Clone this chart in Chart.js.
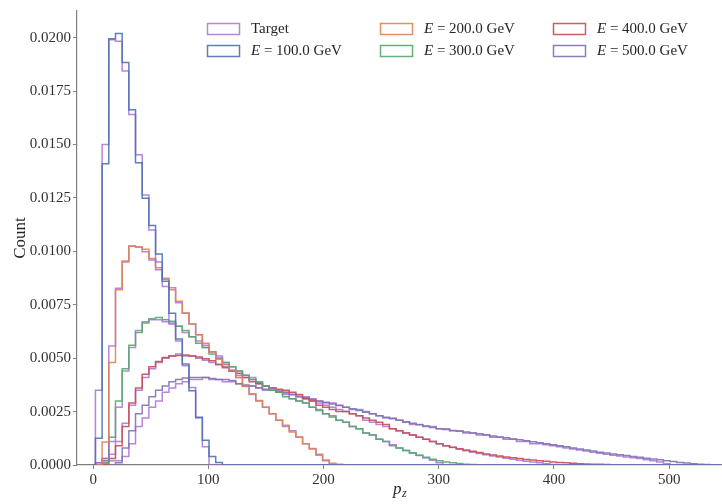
<!DOCTYPE html>
<html>
<head>
<meta charset="utf-8">
<script src="https://cdn.jsdelivr.net/npm/chart.js@4.4.1/dist/chart.umd.min.js"></script>
<style>
  html, body { margin: 0; padding: 0; background: #fff; }
  #wrap { width: 722px; height: 504px; }
</style>
</head>
<body>
<div id="wrap"><canvas id="pzChart" width="722" height="504"></canvas></div>
<script>
// Histogram bins shared by every series (density, bin width in GeV)
const binStart = 2.0;
const binWidth = 5.8;
const binCount = 100;

const energies = ['100.0', '200.0', '300.0', '400.0', '500.0'];
const xTicks = [0, 100, 200, 300, 400, 500];
const yTicks = [0, 0.0025, 0.005, 0.0075, 0.01, 0.0125, 0.015, 0.0175, 0.02];

// Generated samples, one array per beam energy
const e100 = [0.00125, 0.0141, 0.01995, 0.0202, 0.01884, 0.01663, 0.01415, 0.01248, 0.01121, 0.00988,
  0.0086, 0.0071, 0.0059, 0.00473, 0.00348, 0.00224, 0.00116, 0.0004, 0.00012];
const e200 = [0, 0.00108, 0.0048, 0.0082, 0.00955, 0.01025, 0.0102, 0.0101, 0.00967, 0.00923,
  0.00874, 0.0082, 0.00766, 0.00711, 0.0066, 0.0061, 0.0057, 0.0053, 0.00495, 0.0047,
  0.00445, 0.0041, 0.00367, 0.00333, 0.00302, 0.0027, 0.0024, 0.00209, 0.00186, 0.00155,
  0.00131, 0.001, 0.00077, 0.00046, 0.00023, 0.00008, 0.00003];
const e300 = [0, 0.0001, 0.0013, 0.003, 0.0045, 0.0056, 0.0062, 0.00665, 0.00685, 0.0069,
  0.0068, 0.00673, 0.0065, 0.0063, 0.006, 0.0057, 0.0055, 0.0052, 0.005, 0.0048,
  0.0046, 0.0044, 0.0042, 0.0040, 0.00387, 0.0037, 0.0035, 0.0034, 0.0032, 0.0031,
  0.003, 0.0029, 0.0027, 0.00255, 0.0024, 0.00225, 0.0021, 0.002, 0.0018, 0.0017,
  0.0015, 0.0014, 0.0012, 0.0011, 0.0009, 0.0008, 0.00068, 0.00057, 0.00046, 0.00036,
  0.00027, 0.0002, 0.00014, 0.0001, 0.00007, 0.00004, 0.00002, 0.00001];
const e400 = [0, 0.00005, 0.0003, 0.0009, 0.0018, 0.0029, 0.0036, 0.00425, 0.0046, 0.00484,
  0.00503, 0.0051, 0.00513, 0.00515, 0.0051, 0.00505, 0.00497, 0.00488, 0.0047, 0.00455,
  0.0044, 0.0043, 0.0041, 0.0039, 0.0038, 0.0037, 0.0036, 0.00355, 0.0035, 0.0034,
  0.0033, 0.0031, 0.003, 0.0028, 0.0027, 0.0026, 0.0025, 0.0025, 0.0024, 0.0023,
  0.0022, 0.0021, 0.002, 0.0019, 0.0017, 0.0016, 0.0015, 0.0014, 0.0013, 0.0012,
  0.0011, 0.001, 0.0009, 0.00083, 0.00076, 0.0007, 0.00064, 0.00058, 0.00052, 0.00047,
  0.00042, 0.00038, 0.00034, 0.0003, 0.00026, 0.00023, 0.0002, 0.00017, 0.00014, 0.00012,
  0.0001, 0.00008, 0.00006, 0.00005, 0.00004, 0.00003, 0.00002, 0.00001];
const e500 = [0, 0, 0, 0.0001, 0.0008, 0.0016, 0.0024, 0.0028, 0.0032, 0.0035,
  0.0037, 0.0039, 0.004, 0.00407, 0.0041, 0.0041, 0.0041, 0.00405, 0.004, 0.004,
  0.00395, 0.0038, 0.00375, 0.0037, 0.00362, 0.00355, 0.0035, 0.00343, 0.00337, 0.0033,
  0.00322, 0.00315, 0.00307, 0.003, 0.00294, 0.00286, 0.00278, 0.0027, 0.00263, 0.00255,
  0.00247, 0.0024, 0.0023, 0.00224, 0.00216, 0.0021, 0.00202, 0.00195, 0.00188, 0.00182,
  0.00176, 0.0017, 0.00166, 0.00162, 0.00158, 0.00154, 0.0015, 0.00146, 0.00141, 0.00136,
  0.00131, 0.00127, 0.00122, 0.00118, 0.00113, 0.00109, 0.00104, 0.001, 0.00095, 0.0009,
  0.00085, 0.0008, 0.00075, 0.0007, 0.00065, 0.0006, 0.00056, 0.00052, 0.00048, 0.00044,
  0.0004, 0.00036, 0.00032, 0.00028, 0.00024, 0.0002, 0.00016, 0.00012, 0.00009, 0.00006,
  0.00004, 0.00002, 0.00001];

// Target distributions (end at the beam energy)
const t100 = [0.0035, 0.015, 0.0199, 0.01983, 0.01844, 0.0164, 0.01452, 0.01264, 0.011, 0.0095,
  0.00835, 0.00665, 0.0058, 0.00464, 0.00363, 0.0022, 0.00085];
const t200 = [0.0001, 0.0003, 0.00557, 0.00827, 0.0095, 0.01024, 0.0102, 0.00998, 0.0096, 0.00914,
  0.0087, 0.0083, 0.0076, 0.0071, 0.0066, 0.0061, 0.0056, 0.0053, 0.005, 0.0047,
  0.0044, 0.0041, 0.0037, 0.0033, 0.003, 0.0027, 0.0024, 0.0021, 0.0018, 0.0016,
  0.0013, 0.001, 0.00075, 0.0005, 0.0002];
const t300 = [0, 0.0003, 0.0011, 0.0027, 0.0044, 0.0055, 0.0063, 0.0067, 0.0068, 0.0068,
  0.0067, 0.0066, 0.0065, 0.0062, 0.006, 0.0058, 0.0055, 0.0053, 0.0051, 0.0048,
  0.0046, 0.0044, 0.0042, 0.0041, 0.0039, 0.0037, 0.0036, 0.0034, 0.0033, 0.0031,
  0.003, 0.0029, 0.0027, 0.0026, 0.0024, 0.0023, 0.0021, 0.002, 0.0018, 0.0017,
  0.0015, 0.0014, 0.0012, 0.0011, 0.00095, 0.0008, 0.00068, 0.00055, 0.00044, 0.00033,
  0.00022, 0.0001];
const t400 = [0, 0.0002, 0.0005, 0.0011, 0.00195, 0.0028, 0.0035, 0.0041, 0.0045, 0.0048,
  0.005, 0.0051, 0.0052, 0.0051, 0.0051, 0.005, 0.0049, 0.0048, 0.0047, 0.0046,
  0.0044, 0.0042, 0.0041, 0.004, 0.0038, 0.0037, 0.0036, 0.0035, 0.0034, 0.0033,
  0.0032, 0.0031, 0.003, 0.0029, 0.0028, 0.0027, 0.0026, 0.0025, 0.0024, 0.0023,
  0.0021, 0.002, 0.0019, 0.0018, 0.0017, 0.0016, 0.0015, 0.0014, 0.0013, 0.0012,
  0.0011, 0.001, 0.0009, 0.00082, 0.00074, 0.00067, 0.0006, 0.00054, 0.00048, 0.00042,
  0.00037, 0.00032, 0.00027, 0.00022, 0.00018, 0.00014, 0.0001, 0.00006, 0.00002];
const t500 = [0.0001, 0.0002, 0.0002, 0.0002, 0.0004, 0.001, 0.0018, 0.0022, 0.0027, 0.003,
  0.0034, 0.0036, 0.0038, 0.0039, 0.004, 0.004, 0.0041, 0.004, 0.004, 0.0039,
  0.0039, 0.0038, 0.0037, 0.0037, 0.0036, 0.0035, 0.0035, 0.0034, 0.0034, 0.0033,
  0.0032, 0.0032, 0.0031, 0.003, 0.0029, 0.0029, 0.0028, 0.0027, 0.0026, 0.0026,
  0.0025, 0.0024, 0.0023, 0.0022, 0.0022, 0.0021, 0.002, 0.0019, 0.0019, 0.0018,
  0.0018, 0.0017, 0.0017, 0.0016, 0.0016, 0.0015, 0.0015, 0.0014, 0.0014, 0.0013,
  0.0013, 0.0012, 0.0012, 0.0011, 0.0011, 0.001, 0.001, 0.00095, 0.0009, 0.00085,
  0.0008, 0.00075, 0.0007, 0.00065, 0.0006, 0.00055, 0.0005, 0.00046, 0.00042, 0.00038,
  0.00034, 0.0003, 0.00025, 0.0002, 0.00014, 0.00006];

const generated = [e100, e200, e300, e400, e500];
const targets = [t100, t200, t300, t400, t500];

const colors = ['rgba(76,114,176,0.9)', 'rgba(221,132,82,0.9)', 'rgba(85,168,104,0.9)',
  'rgba(196,78,82,0.9)', 'rgba(129,114,179,0.9)'];
const targetColor = 'rgba(164,104,212,0.8)';
const FONT = "'Liberation Serif', 'DejaVu Serif', serif";

// Turn bin heights into the outline of a step histogram
function stepPoints(vals) {
  const pts = [{ x: binStart, y: 0 }];
  vals.forEach((v, i) => {
    const a = binStart + i * binWidth;
    pts.push({ x: a, y: v }, { x: a + binWidth, y: v });
  });
  const end = binStart + vals.length * binWidth;
  pts.push({ x: end, y: 0 }, { x: binStart + binCount * binWidth, y: 0 });
  return pts;
}

const datasets = [];
energies.forEach((e, i) => {
  datasets.push({
    label: 'Target', data: stepPoints(targets[i]), borderColor: targetColor,
    borderWidth: 1.5, pointRadius: 0, fill: false, tension: 0, order: 2 * i + 1
  });
  datasets.push({
    label: 'E = ' + e + ' GeV', data: stepPoints(generated[i]), borderColor: colors[i],
    borderWidth: 1.5, pointRadius: 0, fill: false, tension: 0, order: 2 * i
  });
});

// Legend: three columns, filled column by column like matplotlib
const legendEntries = [
  { text: null, label: 'Target', color: targetColor },
  { text: energies[0], color: colors[0] },
  { text: energies[1], color: colors[1] },
  { text: energies[2], color: colors[2] },
  { text: energies[3], color: colors[3] },
  { text: energies[4], color: colors[4] }
];

const extrasPlugin = {
  id: 'extras',
  afterDraw(chart) {
    const ctx = chart.ctx;
    ctx.save();
    const colX = [207, 380, 553];
    const rowY = [29, 51];
    ctx.textBaseline = 'middle';
    legendEntries.forEach((it, k) => {
      const cx = colX[Math.floor(k / 2)];
      const cy = rowY[k % 2];
      ctx.strokeStyle = it.color;
      ctx.lineWidth = 1.5;
      ctx.strokeRect(cx + 0.5, cy - 5.5, 32, 11);
      ctx.fillStyle = '#262626';
      let tx = cx + 44;
      if (it.text === null) {
        ctx.font = '15px ' + FONT;
        ctx.fillText(it.label, tx, cy);
      } else {
        ctx.font = 'italic 15px ' + FONT;
        ctx.fillText('E', tx, cy);
        tx += ctx.measureText('E').width;
        ctx.font = '15px ' + FONT;
        ctx.fillText(' = ' + it.text + ' GeV', tx, cy);
      }
    });
    // x axis title p_z
    const xa = chart.scales.x;
    const mid = (xa.left + xa.right) / 2;
    ctx.fillStyle = '#262626';
    ctx.font = 'italic 17px ' + FONT;
    ctx.textBaseline = 'alphabetic';
    ctx.fillText('p', mid - 6, 494);
    ctx.font = 'italic 12px ' + FONT;
    ctx.fillText('z', mid + 3, 497);
    ctx.restore();
  }
};

new Chart(document.getElementById('pzChart'), {
  type: 'line',
  data: { datasets: datasets },
  options: {
    responsive: false,
    animation: false,
    layout: { padding: { top: 7, right: 1, left: 0, bottom: 0 } },
    plugins: { legend: { display: false }, tooltip: { enabled: false } },
    scales: {
      x: {
        type: 'linear', min: -14, max: 545,
        afterBuildTicks(s) { s.ticks = xTicks.map(v => ({ value: v })); },
        afterFit(s) { s.height = 39; },
        grid: { drawOnChartArea: false, tickLength: 4, tickColor: '#808080' },
        border: { color: '#808080', width: 1.2 },
        ticks: { color: '#333', font: { family: FONT, size: 15 }, padding: 2, maxRotation: 0 }
      },
      y: {
        type: 'linear', min: 0, max: 0.02125,
        afterBuildTicks(s) { s.ticks = yTicks.map(v => ({ value: v })); },
        afterFit(s) { s.width = 77; },
        grid: { drawOnChartArea: false, tickLength: 4, tickColor: '#808080' },
        border: { color: '#808080', width: 1.2 },
        ticks: {
          color: '#333', font: { family: FONT, size: 15 }, padding: 2,
          callback: v => v.toFixed(4)
        },
        title: {
          display: true, text: 'Count', color: '#262626',
          font: { family: FONT, size: 17 }, padding: { top: 10, bottom: 0 }
        }
      }
    }
  },
  plugins: [extrasPlugin]
});
</script>
</body>
</html>
